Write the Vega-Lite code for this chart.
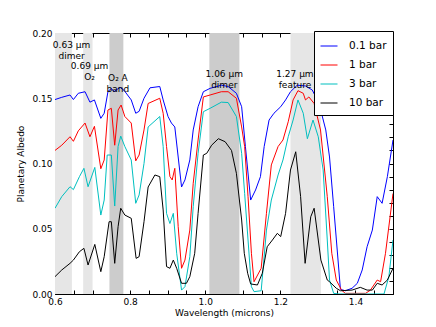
{
"$schema": "https://vega.github.io/schema/vega-lite/v6.json",
"width": 338, "height": 261,
"autosize": {"type": "none"},
"padding": {"left": 55, "top": 33, "right": 43, "bottom": 33},
"background": "white",
"config": {
  "font": "DejaVu Sans",
  "view": {"stroke": "black", "strokeWidth": 1},
  "axis": {"labelFont": "DejaVu Sans", "titleFont": "DejaVu Sans", "labelFontSize": 9, "titleFontSize": 9, "titleFontWeight": "normal", "labelColor": "black", "titleColor": "black", "tickColor": "black", "domain": false, "grid": false, "tickSize": -4, "labelPadding": 7, "labelOverlap": false, "labelFlush": false, "labelBound": false},
  "legend": {"labelFont": "DejaVu Sans"}
},
"datasets": {
  "bands": [
    {"start": 0.6, "end": 0.645, "kind": "weak"},
    {"start": 0.675, "end": 0.70, "kind": "weak"},
    {"start": 0.745, "end": 0.782, "kind": "strong"},
    {"start": 1.011, "end": 1.091, "kind": "strong"},
    {"start": 1.227, "end": 1.308, "kind": "weak"}
  ],
  "notes": [
    {"w": 0.644, "a": 0.1905, "label": "0.63 μm\ndimer"},
    {"w": 0.692, "a": 0.1745, "label": "0.69 μm\nO₂"},
    {"w": 0.7675, "a": 0.1655, "label": "O₂ A\nband"},
    {"w": 1.0507, "a": 0.1687, "label": "1.06 μm\ndimer"},
    {"w": 1.2389, "a": 0.1686, "label": "1.27 μm\nfeature"}
  ],
  "spectra": [
    {"s":"0.1 bar","w":0.600,"a":0.149},{"s":"0.1 bar","w":0.618,"a":0.1507},{"s":"0.1 bar","w":0.640,"a":0.1525},{"s":"0.1 bar","w":0.649,"a":0.149},{"s":"0.1 bar","w":0.662,"a":0.1538},{"s":"0.1 bar","w":0.680,"a":0.155},{"s":"0.1 bar","w":0.693,"a":0.147},{"s":"0.1 bar","w":0.705,"a":0.1487},{"s":"0.1 bar","w":0.722,"a":0.1346},{"s":"0.1 bar","w":0.731,"a":0.1385},{"s":"0.1 bar","w":0.741,"a":0.155},{"s":"0.1 bar","w":0.750,"a":0.1576},{"s":"0.1 bar","w":0.757,"a":0.155},{"s":"0.1 bar","w":0.773,"a":0.1584},{"s":"0.1 bar","w":0.784,"a":0.156},{"s":"0.1 bar","w":0.803,"a":0.1487},{"s":"0.1 bar","w":0.815,"a":0.1385},{"s":"0.1 bar","w":0.824,"a":0.140},{"s":"0.1 bar","w":0.837,"a":0.150},{"s":"0.1 bar","w":0.853,"a":0.158},{"s":"0.1 bar","w":0.879,"a":0.159},{"s":"0.1 bar","w":0.888,"a":0.1487},{"s":"0.1 bar","w":0.901,"a":0.136},{"s":"0.1 bar","w":0.910,"a":0.131},{"s":"0.1 bar","w":0.919,"a":0.128},{"s":"0.1 bar","w":0.937,"a":0.082},{"s":"0.1 bar","w":0.946,"a":0.0874},{"s":"0.1 bar","w":0.959,"a":0.1027},{"s":"0.1 bar","w":0.968,"a":0.1257},{"s":"0.1 bar","w":0.981,"a":0.1435},{"s":"0.1 bar","w":0.995,"a":0.155},{"s":"0.1 bar","w":1.013,"a":0.1576},{"s":"0.1 bar","w":1.043,"a":0.160},{"s":"0.1 bar","w":1.061,"a":0.159},{"s":"0.1 bar","w":1.083,"a":0.1538},{"s":"0.1 bar","w":1.097,"a":0.1435},{"s":"0.1 bar","w":1.107,"a":0.113},{"s":"0.1 bar","w":1.121,"a":0.072},{"s":"0.1 bar","w":1.134,"a":0.0797},{"s":"0.1 bar","w":1.147,"a":0.0899},{"s":"0.1 bar","w":1.157,"a":0.113},{"s":"0.1 bar","w":1.170,"a":0.1333},{"s":"0.1 bar","w":1.183,"a":0.1385},{"s":"0.1 bar","w":1.201,"a":0.1435},{"s":"0.1 bar","w":1.214,"a":0.1487},{"s":"0.1 bar","w":1.227,"a":0.155},{"s":"0.1 bar","w":1.245,"a":0.160},{"s":"0.1 bar","w":1.267,"a":0.1594},{"s":"0.1 bar","w":1.285,"a":0.1563},{"s":"0.1 bar","w":1.303,"a":0.146},{"s":"0.1 bar","w":1.321,"a":0.1257},{"s":"0.1 bar","w":1.331,"a":0.105},{"s":"0.1 bar","w":1.342,"a":0.0669},{"s":"0.1 bar","w":1.360,"a":0.0036},{"s":"0.1 bar","w":1.373,"a":0.0025},{"s":"0.1 bar","w":1.391,"a":0.0044},{"s":"0.1 bar","w":1.405,"a":0.0082},{"s":"0.1 bar","w":1.418,"a":0.0184},{"s":"0.1 bar","w":1.431,"a":0.0362},{"s":"0.1 bar","w":1.445,"a":0.049},{"s":"0.1 bar","w":1.458,"a":0.0746},{"s":"0.1 bar","w":1.471,"a":0.0695},{"s":"0.1 bar","w":1.485,"a":0.0899},{"s":"0.1 bar","w":1.500,"a":0.118},
    {"s":"1 bar","w":0.600,"a":0.110},{"s":"1 bar","w":0.618,"a":0.114},{"s":"1 bar","w":0.640,"a":0.1205},{"s":"1 bar","w":0.649,"a":0.117},{"s":"1 bar","w":0.662,"a":0.125},{"s":"1 bar","w":0.680,"a":0.131},{"s":"1 bar","w":0.693,"a":0.1205},{"s":"1 bar","w":0.705,"a":0.1285},{"s":"1 bar","w":0.722,"a":0.096},{"s":"1 bar","w":0.731,"a":0.1027},{"s":"1 bar","w":0.741,"a":0.141},{"s":"1 bar","w":0.750,"a":0.1423},{"s":"1 bar","w":0.759,"a":0.114},{"s":"1 bar","w":0.768,"a":0.141},{"s":"1 bar","w":0.776,"a":0.1448},{"s":"1 bar","w":0.786,"a":0.136},{"s":"1 bar","w":0.803,"a":0.131},{"s":"1 bar","w":0.815,"a":0.102},{"s":"1 bar","w":0.824,"a":0.1065},{"s":"1 bar","w":0.837,"a":0.1257},{"s":"1 bar","w":0.848,"a":0.146},{"s":"1 bar","w":0.879,"a":0.150},{"s":"1 bar","w":0.888,"a":0.1385},{"s":"1 bar","w":0.897,"a":0.113},{"s":"1 bar","w":0.906,"a":0.090},{"s":"1 bar","w":0.912,"a":0.0874},{"s":"1 bar","w":0.919,"a":0.0963},{"s":"1 bar","w":0.928,"a":0.0516},{"s":"1 bar","w":0.937,"a":0.0197},{"s":"1 bar","w":0.946,"a":0.026},{"s":"1 bar","w":0.959,"a":0.049},{"s":"1 bar","w":0.968,"a":0.0848},{"s":"1 bar","w":0.981,"a":0.118},{"s":"1 bar","w":0.995,"a":0.151},{"s":"1 bar","w":1.013,"a":0.1525},{"s":"1 bar","w":1.043,"a":0.155},{"s":"1 bar","w":1.061,"a":0.155},{"s":"1 bar","w":1.083,"a":0.150},{"s":"1 bar","w":1.097,"a":0.128},{"s":"1 bar","w":1.105,"a":0.113},{"s":"1 bar","w":1.114,"a":0.0746},{"s":"1 bar","w":1.123,"a":0.0312},{"s":"1 bar","w":1.130,"a":0.0094},{"s":"1 bar","w":1.149,"a":0.0197},{"s":"1 bar","w":1.163,"a":0.0618},{"s":"1 bar","w":1.176,"a":0.0989},{"s":"1 bar","w":1.194,"a":0.113},{"s":"1 bar","w":1.207,"a":0.118},{"s":"1 bar","w":1.221,"a":0.132},{"s":"1 bar","w":1.234,"a":0.1487},{"s":"1 bar","w":1.247,"a":0.1558},{"s":"1 bar","w":1.261,"a":0.1538},{"s":"1 bar","w":1.267,"a":0.1487},{"s":"1 bar","w":1.276,"a":0.151},{"s":"1 bar","w":1.290,"a":0.146},{"s":"1 bar","w":1.307,"a":0.1257},{"s":"1 bar","w":1.325,"a":0.0746},{"s":"1 bar","w":1.337,"a":0.0312},{"s":"1 bar","w":1.349,"a":0.0107},{"s":"1 bar","w":1.363,"a":0.003},{"s":"1 bar","w":1.373,"a":0.0005},{"s":"1 bar","w":1.427,"a":0.0005},{"s":"1 bar","w":1.440,"a":0.003},{"s":"1 bar","w":1.458,"a":0.0107},{"s":"1 bar","w":1.467,"a":0.0094},{"s":"1 bar","w":1.480,"a":0.0312},{"s":"1 bar","w":1.500,"a":0.077},
    {"s":"3 bar","w":0.600,"a":0.0657},{"s":"3 bar","w":0.618,"a":0.0746},{"s":"3 bar","w":0.640,"a":0.0822},{"s":"3 bar","w":0.649,"a":0.080},{"s":"3 bar","w":0.665,"a":0.0899},{"s":"3 bar","w":0.677,"a":0.0963},{"s":"3 bar","w":0.688,"a":0.0822},{"s":"3 bar","w":0.706,"a":0.097},{"s":"3 bar","w":0.722,"a":0.0605},{"s":"3 bar","w":0.731,"a":0.072},{"s":"3 bar","w":0.739,"a":0.1065},{"s":"3 bar","w":0.750,"a":0.1065},{"s":"3 bar","w":0.759,"a":0.0674},{"s":"3 bar","w":0.768,"a":0.113},{"s":"3 bar","w":0.775,"a":0.121},{"s":"3 bar","w":0.786,"a":0.113},{"s":"3 bar","w":0.803,"a":0.1027},{"s":"3 bar","w":0.815,"a":0.0695},{"s":"3 bar","w":0.824,"a":0.0759},{"s":"3 bar","w":0.837,"a":0.100},{"s":"3 bar","w":0.848,"a":0.128},{"s":"3 bar","w":0.879,"a":0.136},{"s":"3 bar","w":0.888,"a":0.113},{"s":"3 bar","w":0.897,"a":0.0618},{"s":"3 bar","w":0.906,"a":0.054},{"s":"3 bar","w":0.915,"a":0.0618},{"s":"3 bar","w":0.924,"a":0.0312},{"s":"3 bar","w":0.937,"a":0.003},{"s":"3 bar","w":0.946,"a":0.0056},{"s":"3 bar","w":0.959,"a":0.0286},{"s":"3 bar","w":0.968,"a":0.0669},{"s":"3 bar","w":0.981,"a":0.1078},{"s":"3 bar","w":0.995,"a":0.1397},{"s":"3 bar","w":1.013,"a":0.1423},{"s":"3 bar","w":1.043,"a":0.147},{"s":"3 bar","w":1.061,"a":0.1467},{"s":"3 bar","w":1.083,"a":0.136},{"s":"3 bar","w":1.097,"a":0.1078},{"s":"3 bar","w":1.105,"a":0.077},{"s":"3 bar","w":1.114,"a":0.0414},{"s":"3 bar","w":1.123,"a":0.0056},{"s":"3 bar","w":1.130,"a":0.0018},{"s":"3 bar","w":1.149,"a":0.0025},{"s":"3 bar","w":1.163,"a":0.049},{"s":"3 bar","w":1.176,"a":0.072},{"s":"3 bar","w":1.194,"a":0.0912},{"s":"3 bar","w":1.207,"a":0.1027},{"s":"3 bar","w":1.221,"a":0.1205},{"s":"3 bar","w":1.234,"a":0.1333},{"s":"3 bar","w":1.247,"a":0.1487},{"s":"3 bar","w":1.261,"a":0.1385},{"s":"3 bar","w":1.272,"a":0.119},{"s":"3 bar","w":1.287,"a":0.1333},{"s":"3 bar","w":1.301,"a":0.1205},{"s":"3 bar","w":1.314,"a":0.095},{"s":"3 bar","w":1.325,"a":0.0414},{"s":"3 bar","w":1.331,"a":0.0107},{"s":"3 bar","w":1.342,"a":0.0005},{"s":"3 bar","w":1.356,"a":0.0},{"s":"3 bar","w":1.476,"a":0.0},{"s":"3 bar","w":1.489,"a":0.0133},{"s":"3 bar","w":1.500,"a":0.0414},
    {"s":"10 bar","w":0.600,"a":0.0133},{"s":"10 bar","w":0.618,"a":0.0184},{"s":"10 bar","w":0.640,"a":0.0235},{"s":"10 bar","w":0.649,"a":0.026},{"s":"10 bar","w":0.665,"a":0.0324},{"s":"10 bar","w":0.677,"a":0.035},{"s":"10 bar","w":0.688,"a":0.0222},{"s":"10 bar","w":0.706,"a":0.038},{"s":"10 bar","w":0.722,"a":0.0171},{"s":"10 bar","w":0.731,"a":0.0286},{"s":"10 bar","w":0.744,"a":0.0554},{"s":"10 bar","w":0.750,"a":0.0554},{"s":"10 bar","w":0.759,"a":0.0235},{"s":"10 bar","w":0.768,"a":0.0516},{"s":"10 bar","w":0.775,"a":0.0657},{"s":"10 bar","w":0.786,"a":0.0605},{"s":"10 bar","w":0.803,"a":0.058},{"s":"10 bar","w":0.816,"a":0.0273},{"s":"10 bar","w":0.824,"a":0.0286},{"s":"10 bar","w":0.837,"a":0.0554},{"s":"10 bar","w":0.848,"a":0.082},{"s":"10 bar","w":0.866,"a":0.0912},{"s":"10 bar","w":0.879,"a":0.0899},{"s":"10 bar","w":0.888,"a":0.0644},{"s":"10 bar","w":0.897,"a":0.021},{"s":"10 bar","w":0.906,"a":0.0197},{"s":"10 bar","w":0.915,"a":0.026},{"s":"10 bar","w":0.924,"a":0.0197},{"s":"10 bar","w":0.937,"a":0.0082},{"s":"10 bar","w":0.950,"a":0.0082},{"s":"10 bar","w":0.959,"a":0.0133},{"s":"10 bar","w":0.972,"a":0.0312},{"s":"10 bar","w":0.981,"a":0.0618},{"s":"10 bar","w":0.995,"a":0.1065},{"s":"10 bar","w":1.004,"a":0.1078},{"s":"10 bar","w":1.017,"a":0.114},{"s":"10 bar","w":1.035,"a":0.119},{"s":"10 bar","w":1.053,"a":0.1167},{"s":"10 bar","w":1.070,"a":0.110},{"s":"10 bar","w":1.083,"a":0.0925},{"s":"10 bar","w":1.097,"a":0.0567},{"s":"10 bar","w":1.104,"a":0.0312},{"s":"10 bar","w":1.113,"a":0.0159},{"s":"10 bar","w":1.121,"a":0.0077},{"s":"10 bar","w":1.139,"a":0.0069},{"s":"10 bar","w":1.152,"a":0.0159},{"s":"10 bar","w":1.165,"a":0.0362},{"s":"10 bar","w":1.179,"a":0.0414},{"s":"10 bar","w":1.192,"a":0.0465},{"s":"10 bar","w":1.201,"a":0.044},{"s":"10 bar","w":1.214,"a":0.0618},{"s":"10 bar","w":1.227,"a":0.095},{"s":"10 bar","w":1.241,"a":0.109},{"s":"10 bar","w":1.254,"a":0.0746},{"s":"10 bar","w":1.266,"a":0.0235},{"s":"10 bar","w":1.281,"a":0.0592},{"s":"10 bar","w":1.290,"a":0.0657},{"s":"10 bar","w":1.308,"a":0.026},{"s":"10 bar","w":1.325,"a":0.0107},{"s":"10 bar","w":1.331,"a":0.0094},{"s":"10 bar","w":1.349,"a":0.0044},{"s":"10 bar","w":1.360,"a":0.0025},{"s":"10 bar","w":1.391,"a":0.003},{"s":"10 bar","w":1.413,"a":0.0051},{"s":"10 bar","w":1.431,"a":0.003},{"s":"10 bar","w":1.445,"a":0.003},{"s":"10 bar","w":1.458,"a":0.0082},{"s":"10 bar","w":1.471,"a":0.0069},{"s":"10 bar","w":1.485,"a":0.0107},{"s":"10 bar","w":1.500,"a":0.0197}
  ]
},
"resolve": {"axis": {"x": "independent", "y": "independent"}},
"layer": [
  {
    "data": {"name": "bands"},
    "mark": {"type": "rect"},
    "encoding": {
      "x": {"field": "start", "type": "quantitative", "axis": null, "scale": {"domain": [0.6, 1.5], "nice": false, "zero": false}},
      "x2": {"field": "end"},
      "fill": {"field": "kind", "type": "nominal", "scale": {"domain": ["weak", "strong"], "range": ["#e6e6e6", "#cccccc"]}, "legend": null}
    }
  },
  {
    "data": {"name": "spectra"},
    "mark": {"type": "line", "strokeWidth": 1, "clip": true},
    "encoding": {
      "x": {"field": "w", "type": "quantitative", "scale": {"domain": [0.6, 1.5], "nice": false, "zero": false},
        "axis": {"title": "Wavelength (microns)", "values": [0.6,0.65,0.7,0.75,0.8,0.85,0.9,0.95,1.0,1.05,1.1,1.15,1.2,1.25,1.3,1.35,1.4,1.45,1.5], "labelExpr": "round(datum.value*20) % 4 == 0 ? format(datum.value, '.1f') : ''", "titlePadding": 2}},
      "y": {"field": "a", "type": "quantitative", "scale": {"domain": [0, 0.2], "nice": false, "zero": false},
        "axis": {"title": "Planetary Albedo", "values": [0,0.01,0.02,0.03,0.04,0.05,0.06,0.07,0.08,0.09,0.1,0.11,0.12,0.13,0.14,0.15,0.16,0.17,0.18,0.19,0.2], "labelExpr": "round(datum.value*100) % 5 == 0 ? format(datum.value, '.2f') : ''", "titlePadding": 6}},
      "color": {"field": "s", "type": "nominal", "scale": {"domain": ["0.1 bar", "1 bar", "3 bar", "10 bar"], "range": ["#0000ff", "#ff0000", "#00bfbf", "#000000"]},
        "legend": {"title": null, "orient": "none", "legendX": 259, "legendY": -2, "fillColor": "white", "strokeColor": "black", "padding": 6, "cornerRadius": 0, "labelFontSize": 10.5, "labelColor": "black", "symbolType": "stroke", "symbolSize": 289, "symbolStrokeWidth": 1, "labelOffset": 11, "rowPadding": 4}}
    }
  },
  {
    "data": {"name": "notes"},
    "mark": {"type": "text", "fontSize": 9, "font": "DejaVu Sans", "align": "center", "baseline": "middle", "color": "black", "lineBreak": "\n", "lineHeight": 11},
    "encoding": {
      "x": {"field": "w", "type": "quantitative", "axis": {"orient": "top", "labels": false, "title": null, "values": [0.6,0.65,0.7,0.75,0.8,0.85,0.9,0.95,1.0,1.05,1.1,1.15,1.2,1.25,1.3,1.35,1.4,1.45,1.5]}},
      "y": {"field": "a", "type": "quantitative", "axis": {"orient": "right", "labels": false, "title": null, "values": [0,0.01,0.02,0.03,0.04,0.05,0.06,0.07,0.08,0.09,0.1,0.11,0.12,0.13,0.14,0.15,0.16,0.17,0.18,0.19,0.2]}},
      "text": {"field": "label"}
    }
  }
]
}
